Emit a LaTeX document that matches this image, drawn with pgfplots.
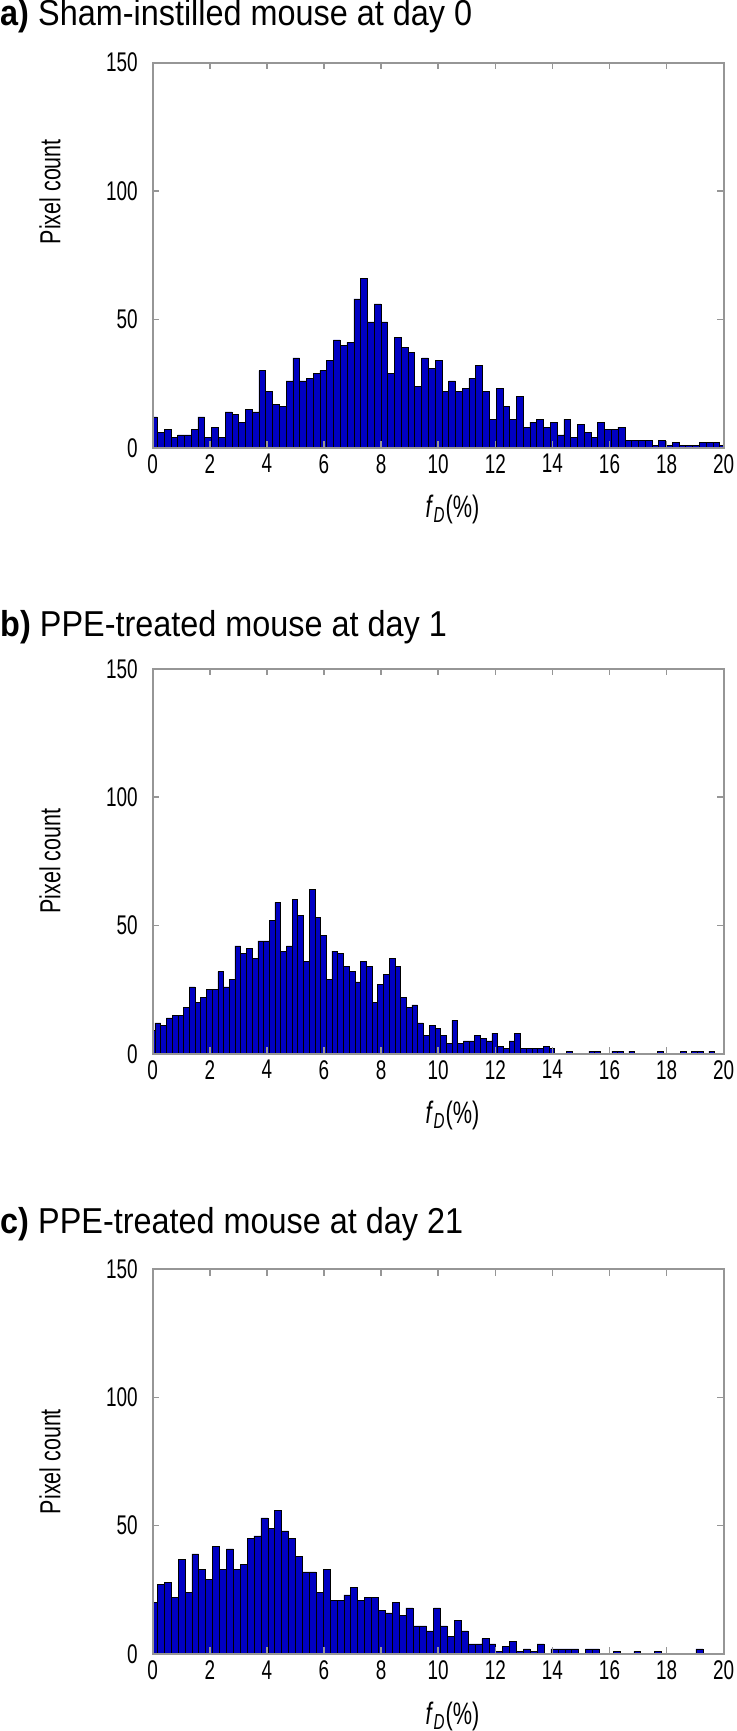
\documentclass[border=0pt]{standalone}
\usepackage{fontspec}
\setmainfont{Liberation Sans}
\newfontfamily\narrowfont[FakeStretch=0.7]{Liberation Sans}
\newfontfamily\labelfont[FakeStretch=0.74]{Liberation Sans}
\newfontfamily\xlabfont[FakeStretch=0.7]{Liberation Sans}
\newfontfamily\titlefont[FakeStretch=0.9]{Liberation Sans}
\usepackage{pgfplots}
\pgfplotsset{compat=1.18}
\usepackage{pgfplotstable}
\definecolor{barblue}{RGB}{0,0,195}
\definecolor{axgray}{RGB}{150,150,150}

\pgfplotstableread{
k n
0 12
1 6
2 7
3 4
4 5
5 5
6 7
7 12
8 4
9 8
10 4
11 14
12 13
13 10
14 15
15 14
16 30
17 22
18 17
19 16
20 26
21 35
22 26
23 27
24 29
25 30
26 34
27 42
28 40
29 41
30 58
31 66
32 49
33 56
34 49
35 29
36 43
37 39
38 37
39 24
40 35
41 31
42 34
43 22
44 26
45 22
46 23
47 27
48 32
49 22
50 11
51 23
52 16
53 11
54 20
55 8
56 10
57 11
58 8
59 10
60 5
61 11
62 4
63 9
64 6
65 4
66 10
67 7
68 7
69 8
70 3
71 3
72 3
73 3
74 1
75 3
76 1
77 2
78 1
79 1
80 1
81 2
82 2
83 2
84 1
}\dataA

\pgfplotstableread{
k n
0 9
1 12
2 11
3 14
4 15
5 15
6 18
7 26
8 20
9 22
10 25
11 25
12 32
13 26
14 29
15 42
16 39
17 41
18 37
19 44
20 44
21 52
22 59
23 40
24 42
25 60
26 54
27 36
28 64
29 53
30 46
31 29
32 40
33 39
34 34
35 32
36 28
37 36
38 34
39 20
40 27
41 31
42 37
43 34
44 22
45 18
46 19
47 12
48 7
49 11
50 10
51 7
52 4
53 13
54 4
55 5
56 5
57 7
58 6
59 5
60 8
61 3
62 2
63 5
64 8
65 2
66 2
67 2
68 2
69 3
70 2
73 1
77 1
78 1
81 1
82 1
84 1
89 1
93 1
95 1
96 1
98 1
}\dataB

\pgfplotstableread{
k n
0 20
1 27
2 28
3 22
4 37
5 24
6 39
7 33
8 29
9 42
10 33
11 41
12 33
13 35
14 45
15 46
16 53
17 49
18 56
19 48
20 45
21 38
22 32
23 32
24 24
25 33
26 21
27 21
28 23
29 26
30 21
31 22
32 22
33 17
34 16
35 20
36 15
37 18
38 11
39 11
40 9
41 18
42 11
43 7
44 13
45 9
46 4
47 4
48 6
49 4
50 1
51 3
52 5
53 1
54 2
55 1
56 4
58 2
59 2
60 2
61 2
63 2
64 2
67 1
70 1
73 1
79 2
}\dataC

\pgfplotsset{
  histax/.style={
    scale only axis, width=285.5bp, height=192.5bp,
    anchor=south west,
    xmin=0, xmax=20, ymin=0, ymax=150,
    xtick={0,2,...,20}, ytick={0,50,100,150},
    minor tick num=0,
    tick align=inside, major tick length=3.3bp,
    axis line style={axgray, line width=0.8bp},
    tick style={axgray, line width=0.8bp},
    axis on top,
    /pgf/number format/assume math mode=true,
    ticklabel style={font=\narrowfont\fontsize{13.5bp}{15bp}\selectfont, text=black},
    xticklabel style={yshift=0.2bp},
    yticklabel style={xshift=-4bp},
    xlabel={\textit{f}\textsubscript{\textit{D}}(\%)},
    ylabel={Pixel count},
    xlabel style={font=\xlabfont\fontsize{15.5bp}{17bp}\selectfont, at={(axis description cs:0.525,-0.161)}, anchor=center},
    ylabel style={font=\labelfont\fontsize{14.5bp}{16bp}\selectfont, anchor=center, rotate=0},
  },
  bars/.style={ybar, bar shift=0pt, fill=barblue, draw=black, line width=0.25bp},
}

\begin{document}
\begin{tikzpicture}
\useasboundingbox (0,0) rectangle (368.5bp,-865.5bp);

\begin{axis}[histax, at={(76.35bp,-223.85bp)},
  ylabel style={at={(axis description cs:-0.18,0.665)}}]
\addplot[bars, bar width=0.2373] table[x expr={0.0424+0.2373*\thisrow{k}}, y=n] {\dataA};
\end{axis}

\begin{axis}[histax, at={(76.35bp,-526.85bp)},
  ylabel style={at={(axis description cs:-0.18,0.5)}}]
\addplot[bars, bar width=0.2] table[x expr={-0.02+0.2*\thisrow{k}}, y=n] {\dataB};
\end{axis}

\begin{axis}[histax, at={(76.35bp,-827bp)},
  ylabel style={at={(axis description cs:-0.18,0.5)}}]
\addplot[bars, bar width=0.2419] table[x expr={0.04+0.2419*\thisrow{k}}, y=n] {\dataC};
\end{axis}

\node[anchor=west, inner sep=0pt, font=\titlefont\fontsize{18bp}{20bp}\selectfont] at (0,-8.2bp) {\textbf{a)} Sham-instilled mouse at day 0};
\node[anchor=west, inner sep=0pt, font=\titlefont\fontsize{18bp}{20bp}\selectfont] at (0,-313.8bp) {\textbf{b)} PPE-treated mouse at day 1};
\node[anchor=west, inner sep=0pt, font=\titlefont\fontsize{18bp}{20bp}\selectfont] at (0,-612bp) {\textbf{c)} PPE-treated mouse at day 21};
\end{tikzpicture}
\end{document}
